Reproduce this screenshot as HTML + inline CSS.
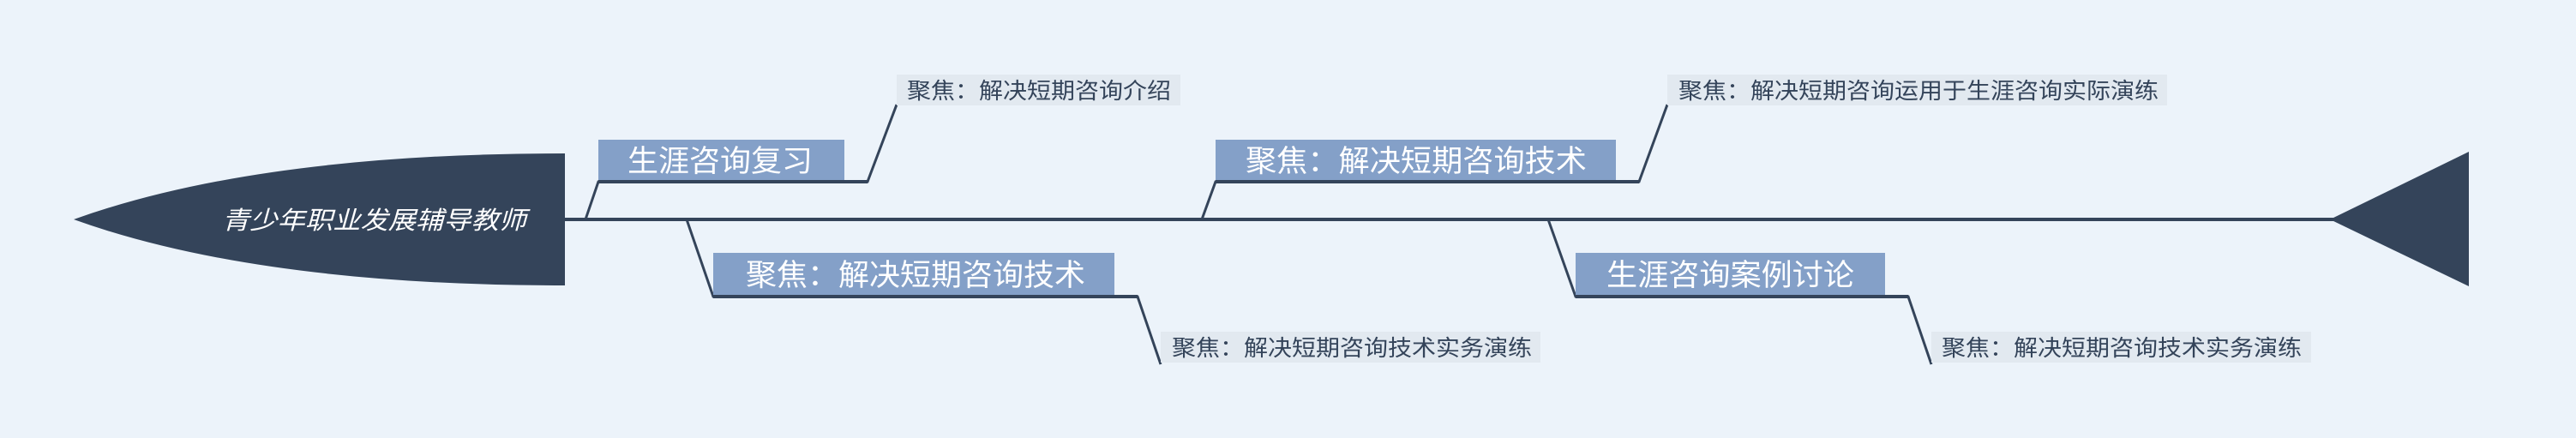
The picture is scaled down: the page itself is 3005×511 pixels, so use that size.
<!DOCTYPE html>
<html><head><meta charset="utf-8"><style>
html,body{margin:0;padding:0;background:#ecf3fa;}
svg{display:block}
text{font-family:"Liberation Sans","Noto Sans CJK SC",sans-serif;}
</style></head><body>
<svg width="3005" height="511" viewBox="0 0 3005 511" xmlns="http://www.w3.org/2000/svg">
<rect width="3005" height="511" fill="#ecf3fa"/>
<path d="M86 256 Q300 179 659 179 L659 333 Q300 333 86 256 Z" fill="#34445a"/>
<text x="259" y="267" font-size="29" fill="#fff" font-style="italic" textLength="355" lengthAdjust="spacingAndGlyphs">青少年职业发展辅导教师</text>
<line x1="659" y1="256" x2="2730" y2="256" stroke="#34445a" stroke-width="4"/>
<path d="M2718 256 L2880 177 L2880 334 Z" fill="#34445a"/>
<g stroke="#34445a" stroke-width="3" fill="none">
<polyline points="683,256 698,212 1012,212 1046,122"/>
<polyline points="801,256 832,346 1327,346 1354,425"/>
<polyline points="1402,256 1418,212 1912,212 1945,122"/>
<polyline points="1806,256 1838,346 2226,346 2253,425"/>
</g>
<rect x="698" y="163" width="287" height="48" fill="#84a0c8"/>
<line x1="698" y1="212" x2="1012" y2="212" stroke="#34445a" stroke-width="4"/>
<text x="732" y="200" font-size="35" fill="#fff" textLength="216" lengthAdjust="spacingAndGlyphs">生涯咨询复习</text>
<rect x="832" y="295" width="468" height="50" fill="#84a0c8"/>
<line x1="832" y1="346" x2="1327" y2="346" stroke="#34445a" stroke-width="4"/>
<text x="870" y="333" font-size="35" fill="#fff" textLength="396" lengthAdjust="spacingAndGlyphs">聚焦：解决短期咨询技术</text>
<rect x="1418" y="163" width="467" height="48" fill="#84a0c8"/>
<line x1="1418" y1="212" x2="1912" y2="212" stroke="#34445a" stroke-width="4"/>
<text x="1453" y="200" font-size="35" fill="#fff" textLength="398" lengthAdjust="spacingAndGlyphs">聚焦：解决短期咨询技术</text>
<rect x="1838" y="295" width="361" height="50" fill="#84a0c8"/>
<line x1="1838" y1="346" x2="2226" y2="346" stroke="#34445a" stroke-width="4"/>
<text x="1874" y="333" font-size="35" fill="#fff" textLength="289" lengthAdjust="spacingAndGlyphs">生涯咨询案例讨论</text>
<rect x="1046" y="87" width="331" height="36" fill="#e2e9f0"/>
<text x="1058" y="115" font-size="26" fill="#34445a" textLength="308" lengthAdjust="spacingAndGlyphs">聚焦：解决短期咨询介绍</text>
<rect x="1354" y="387" width="443" height="36" fill="#e2e9f0"/>
<text x="1367" y="415" font-size="26" fill="#34445a" textLength="420" lengthAdjust="spacingAndGlyphs">聚焦：解决短期咨询技术实务演练</text>
<rect x="1945" y="87" width="583" height="36" fill="#e2e9f0"/>
<text x="1958" y="115" font-size="26" fill="#34445a" textLength="560" lengthAdjust="spacingAndGlyphs">聚焦：解决短期咨询运用于生涯咨询实际演练</text>
<rect x="2253" y="387" width="443" height="36" fill="#e2e9f0"/>
<text x="2265" y="415" font-size="26" fill="#34445a" textLength="420" lengthAdjust="spacingAndGlyphs">聚焦：解决短期咨询技术实务演练</text>
</svg>
</body></html>
